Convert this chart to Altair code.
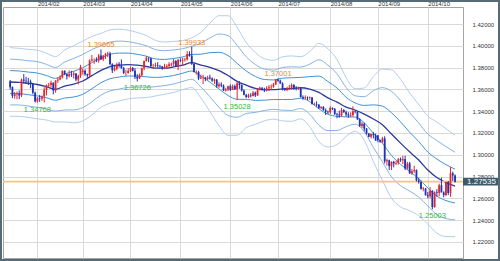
import altair as alt
import pandas as pd

# ---- daily candles (trading-day index 0 = 2014-01-16) ----
opens = [1.3675,1.3620,1.3540,1.3555,1.3560,1.3545,1.3690,1.3680,1.3675,1.3670,1.3655,1.3570,
 1.3490,1.3520,1.3515,1.3535,1.3595,1.3635,1.3640,1.3660,1.3590,1.3680,1.3690,1.3710,1.3770,1.3740,1.3720,1.3740,1.3735,1.3745,1.3690,1.3725,
 1.3760,1.3770,1.3740,1.3730,1.3865,1.3875,1.3875,1.3865,1.3910,1.3875,1.3910,1.3925,1.3930,1.3830,1.3775,1.3790,1.3830,1.3820,1.3795,1.3750,1.3750,
 1.3770,1.3795,1.3770,1.3715,1.3700,1.3730,1.3795,1.3860,1.3890,1.3885,1.3815,1.3815,1.3820,1.3815,1.3810,1.3795,1.3805,1.3815,1.3830,1.3835,1.3860,1.3810,
 1.3870,1.3865,1.3870,1.3875,1.3925,1.3910,1.3835,1.3760,1.3760,1.3700,1.3710,1.3710,1.3695,1.3710,1.3700,1.3680,1.3690,1.3630,1.3645,1.3635,1.3590,1.3600,
 1.3630,1.3595,1.3630,1.3600,1.3655,1.3640,1.3590,1.3550,1.3530,1.3545,1.3540,1.3570,1.3545,1.3600,1.3615,1.3605,1.3600,1.3610,1.3620,1.3625,1.3645,
 1.3690,1.3680,1.3655,1.3605,1.3595,1.3610,1.3615,1.3640,1.3615,1.3605,1.3610,1.3530,1.3520,1.3525,1.3520,1.3525,1.3465,1.3465,1.3460,1.3430,1.3440,1.3410,1.3395,
 1.3390,1.3430,1.3420,1.3375,1.3370,1.3360,1.3410,1.3390,1.3370,1.3360,1.3365,1.3400,1.3395,1.3325,1.3265,1.3285,1.3240,1.3195,1.3165,1.3190,1.3180,
 1.3180,1.3135,1.3120,1.3150,1.2940,1.2950,1.2895,1.2935,1.2920,1.2925,1.2960,1.2950,1.2960,1.2875,1.2920,1.2830,1.2850,1.2860,1.2765,1.2750,1.2685,1.2690,
 1.2630,1.2620,1.2670,1.2520,1.2655,1.2650,1.2720,1.2655,1.2630,1.2750,1.2650,1.2830,1.2810]
highs = [1.3686,1.3627,1.3575,1.3580,1.3590,1.3700,1.3740,1.3715,1.3705,1.3690,1.3660,1.3580,
 1.3530,1.3550,1.3545,1.3620,1.3645,1.3660,1.3680,1.3665,1.3685,1.3710,1.3730,1.3775,1.3775,1.3745,1.3775,1.3770,1.3765,1.3750,1.3735,1.3825,
 1.3790,1.3785,1.3745,1.3875,1.3915,1.3885,1.3895,1.3925,1.39665,1.3915,1.3935,1.3945,1.3945,1.3840,1.3815,1.3845,1.3850,1.3875,1.3805,1.3780,1.3795,
 1.3810,1.3805,1.3795,1.3740,1.3745,1.3800,1.3865,1.3905,1.3895,1.3890,1.3835,1.3845,1.3850,1.3825,1.3815,1.3835,1.3830,1.3850,1.3845,1.3880,1.3870,1.3880,
 1.3885,1.3890,1.3890,1.3950,1.3950,1.39933,1.3840,1.3775,1.3770,1.3735,1.3735,1.3715,1.3725,1.3735,1.3710,1.3700,1.3695,1.3665,1.3665,1.3645,1.3615,1.3635,
 1.3645,1.3645,1.3645,1.3670,1.3675,1.3645,1.3600,1.3560,1.3560,1.3565,1.3585,1.3580,1.3610,1.3625,1.3620,1.3615,1.3630,1.3640,1.3645,1.3660,1.3695,
 1.37001,1.3690,1.3665,1.3615,1.3625,1.3640,1.3655,1.3650,1.3630,1.3625,1.3615,1.3545,1.3545,1.3535,1.3535,1.3530,1.3480,1.3490,1.3465,1.3445,1.3445,1.3425,1.3405,
 1.3445,1.3435,1.3430,1.3385,1.3405,1.3430,1.3420,1.3405,1.3390,1.3390,1.3445,1.3410,1.3400,1.3335,1.3300,1.3295,1.3245,1.3200,1.3195,1.3210,1.3195,
 1.3145,1.3140,1.3165,1.3170,1.2965,1.2955,1.2940,1.2945,1.2945,1.2970,1.2975,1.2990,1.2990,1.2935,1.2935,1.2870,1.2900,1.2865,1.2790,1.2765,1.2705,1.2695,
 1.2660,1.2705,1.2675,1.2665,1.2685,1.2735,1.2790,1.2665,1.2755,1.2760,1.2887,1.2845,1.2820]
lows = [1.3597,1.3520,1.3515,1.3510,1.3510,1.3530,1.3655,1.3655,1.3640,1.3610,1.3555,1.3480,
 1.34768,1.3485,1.3495,1.3480,1.3545,1.3615,1.3620,1.3555,1.3570,1.3660,1.3685,1.3700,1.3730,1.3690,1.3710,1.3715,1.3700,1.3675,1.3645,1.3705,
 1.3735,1.3725,1.3705,1.3710,1.3855,1.3835,1.3850,1.3845,1.3870,1.3860,1.3880,1.3895,1.3825,1.3750,1.3765,1.3775,1.3800,1.3790,1.3740,1.3725,1.3745,
 1.3760,1.3765,1.3695,1.36726,1.3695,1.3720,1.3775,1.3855,1.3850,1.3800,1.3790,1.3805,1.3800,1.3800,1.3780,1.3785,1.3790,1.3800,1.3810,1.3815,1.3805,1.3775,
 1.3850,1.3815,1.3855,1.3865,1.3900,1.3825,1.3755,1.3735,1.3685,1.3695,1.3650,1.3675,1.3685,1.3690,1.3670,1.3650,1.3615,1.3615,1.3620,1.3585,1.3580,1.3585,
 1.3585,1.3595,1.3595,1.35028,1.3605,1.3580,1.3545,1.3520,1.3520,1.3525,1.3535,1.3530,1.3540,1.3590,1.3590,1.3575,1.3580,1.3585,1.3600,1.3615,1.3640,
 1.3670,1.3650,1.3590,1.3585,1.3585,1.3595,1.3600,1.3595,1.3590,1.3595,1.3525,1.3505,1.3510,1.3500,1.3505,1.3460,1.3450,1.3440,1.3420,1.3420,1.3405,1.3365,1.3375,
 1.3375,1.3410,1.3365,1.3335,1.3340,1.3350,1.3385,1.3350,1.3340,1.3345,1.3350,1.3380,1.3320,1.3255,1.3245,1.3215,1.3185,1.3160,1.3150,1.3150,1.3130,
 1.3115,1.3110,1.3110,1.2920,1.2900,1.2860,1.2860,1.2885,1.2905,1.2910,1.2935,1.2915,1.2860,1.2865,1.2825,1.2815,1.2835,1.2755,1.2735,1.2680,1.2665,1.2625,
 1.2600,1.2600,1.25003,1.2515,1.2615,1.2620,1.2655,1.2610,1.2620,1.2630,1.2615,1.2760,1.2745]
closes = [1.3620,1.3540,1.3555,1.3560,1.3545,1.3690,1.3680,1.3675,1.3670,1.3655,1.3570,1.3490,
 1.3520,1.3515,1.3535,1.3595,1.3635,1.3640,1.3660,1.3590,1.3680,1.3690,1.3710,1.3770,1.3740,1.3720,1.3740,1.3735,1.3745,1.3690,1.3725,1.3805,
 1.3770,1.3740,1.3730,1.3865,1.3875,1.3875,1.3865,1.3910,1.3875,1.3910,1.3925,1.3930,1.3830,1.3775,1.3790,1.3830,1.3820,1.3795,1.3750,1.3750,1.3770,
 1.3795,1.3770,1.3715,1.3700,1.3730,1.3795,1.3860,1.3890,1.3885,1.3815,1.3815,1.3820,1.3815,1.3810,1.3795,1.3805,1.3815,1.3830,1.3835,1.3860,1.3810,1.3870,
 1.3865,1.3870,1.3875,1.3925,1.3910,1.3835,1.3760,1.3760,1.3700,1.3710,1.3710,1.3695,1.3710,1.3700,1.3680,1.3690,1.3630,1.3645,1.3635,1.3590,1.3600,1.3630,
 1.3595,1.3630,1.3600,1.3655,1.3640,1.3590,1.3550,1.3530,1.3545,1.3540,1.3570,1.3545,1.3600,1.3615,1.3605,1.3600,1.3610,1.3620,1.3625,1.3645,1.3690,
 1.3680,1.3655,1.3605,1.3595,1.3610,1.3615,1.3640,1.3615,1.3605,1.3610,1.3530,1.3520,1.3525,1.3520,1.3525,1.3465,1.3465,1.3460,1.3430,1.3440,1.3410,1.3395,1.3390,
 1.3430,1.3420,1.3375,1.3370,1.3360,1.3410,1.3390,1.3370,1.3360,1.3365,1.3400,1.3395,1.3325,1.3265,1.3285,1.3240,1.3195,1.3165,1.3190,1.3180,1.3130,
 1.3135,1.3120,1.3150,1.2940,1.2950,1.2895,1.2935,1.2920,1.2925,1.2960,1.2950,1.2960,1.2875,1.2920,1.2830,1.2850,1.2860,1.2765,1.2750,1.2685,1.2690,1.2630,
 1.2620,1.2670,1.2520,1.2655,1.2650,1.2720,1.2655,1.2630,1.2750,1.2650,1.2830,1.2810,1.27535]

# ---- month labels on the top axis (index of first trading day) ----
month_idx = [12, 32, 53, 75, 97, 118, 141, 162, 184]
month_lbl = ["2014/02", "2014/03", "2014/04", "2014/05", "2014/06",
             "2014/07", "2014/08", "2014/09", "2014/10"]
price_ticks = [1.22, 1.24, 1.26, 1.28, 1.30, 1.32, 1.34, 1.36, 1.38, 1.40, 1.42]

# ---- Bollinger bands (middle line and band step) ----
band_idx = [0,4,8,12,16,20,24,28,32,36,40,44,48,52,56,60,64,68,72,76,80,84,88,92,96,100,
            104,108,112,116,120,124,128,132,136,140,144,148,152,156,160,164,168,172,176,180,184,188,192,196]
band_mid = [1.3668,1.3665,1.3655,1.3645,1.3625,1.3601,1.3631,1.3648,1.3677,1.3726,1.3774,1.3810,1.3823,
            1.3828,1.3822,1.3810,1.3795,1.3795,1.3806,1.3823,1.3845,1.3823,1.3802,1.3772,1.3727,1.3674,
            1.3639,1.3609,1.3596,1.3597,1.3605,1.3607,1.3615,1.3602,1.3572,1.3522,1.3483,1.3438,1.3411,
            1.3373,1.3328,1.3276,1.3190,1.3107,1.3027,1.2952,1.2860,1.2791,1.2745,1.2713]
band_sd = [0.0105,0.0104,0.0104,0.0105,0.0102,0.0100,0.0110,0.0118,0.0122,0.0120,0.0113,0.0112,0.0110,
           0.0105,0.0100,0.0095,0.0085,0.0080,0.0078,0.0075,0.0076,0.0100,0.0135,0.0168,0.0183,0.0165,
           0.0130,0.0110,0.0095,0.0090,0.0098,0.0100,0.0095,0.0115,0.0150,0.0150,0.0130,0.0090,0.0065,
           0.0080,0.0130,0.0170,0.0196,0.0195,0.0180,0.0170,0.0165,0.0170,0.0165,0.0155]

hi_idx = [40, 80, 118]
hi_val = [1.39665, 1.39933, 1.37001]
lo_idx = [12, 56, 100, 186]
lo_val = [1.34768, 1.36726, 1.35028, 1.25003]
last_price = 1.27535

FONT = "Liberation Sans"
UP, DOWN = "#e3262b", "#1e33b8"

candles = pd.DataFrame({"i": list(range(len(closes))), "o": opens, "h": highs, "l": lows, "c": closes})
candles["dir"] = ["up" if c >= o else "down" for o, c in zip(opens, closes)]

xs = alt.Scale(domain=[-0.95, 197.3], nice=False, zero=False)
ys = alt.Scale(domain=[1.2053, 1.4356], nice=False, zero=False)
label_expr = "[" + ",".join("'%s'" % m for m in month_lbl) + "][indexof([" + \
    ",".join(str(v) for v in month_idx) + "], datum.value)]"

x_axis = alt.Axis(orient="top", values=month_idx, labelExpr=label_expr, grid=True,
                  gridColor="#d9d9d9", ticks=False, domain=False, labelAlign="left",
                  labelBaseline="bottom", labelPadding=1, labelFontSize=6, labelColor="#333333",
                  labelFont=FONT, title=None)
y_axis = alt.Axis(orient="right", values=price_ticks, format=".5f", grid=True,
                  gridColor="#d9d9d9", ticks=False, domain=False, labelAlign="left",
                  labelPadding=9, labelFontSize=6, labelColor="#333333", labelFont=FONT, title=None)


def X(field):
    return alt.X(field, scale=xs, axis=x_axis)


def Y(field):
    return alt.Y(field, scale=ys, axis=y_axis)


band_df = pd.DataFrame({"i": band_idx, "mid": band_mid, "sd": band_sd})
band_base = alt.Chart(band_df).transform_calculate(
    u3="datum.mid + 3 * datum.sd", u2="datum.mid + 2 * datum.sd", u1="datum.mid + datum.sd",
    l1="datum.mid - datum.sd", l2="datum.mid - 2 * datum.sd", l3="datum.mid - 3 * datum.sd")
band_style = {"u3": "#b3cdee", "u2": "#84b3e4", "u1": "#3e92d5",
              "l1": "#3e92d5", "l2": "#84b3e4", "l3": "#b3cdee"}
band_layers = [band_base.mark_line(interpolate="monotone", strokeWidth=1, color=col, clip=True)
               .encode(x=X("i:Q"), y=Y(name + ":Q")) for name, col in band_style.items()]
mid_line = band_base.mark_line(interpolate="monotone", strokeWidth=1.3, color="#2c3b9c",
                               clip=True).encode(x=X("i:Q"), y=Y("mid:Q"))

price_df = pd.DataFrame({"p": [last_price], "t": ["%.5f" % last_price]})
price_rule = alt.Chart(price_df).mark_rule(color="#f5c879", strokeWidth=1.6).encode(y=Y("p:Q"))

color = alt.Color("dir:N", scale=alt.Scale(domain=["up", "down"], range=[UP, DOWN]), legend=None)
wicks = alt.Chart(candles).mark_rule(strokeWidth=1).encode(
    x=X("i:Q"), y=Y("l:Q"), y2="h:Q", color=color)
bodies = alt.Chart(candles).mark_bar(width=1.8).encode(
    x=X("i:Q"), y=Y("o:Q"), y2="c:Q", color=color)

hi_df = pd.DataFrame({"i": hi_idx, "v": hi_val, "t": ["%.5f" % v for v in hi_val]})
lo_df = pd.DataFrame({"i": lo_idx, "v": lo_val, "t": ["%.5f" % v for v in lo_val]})
hi_text = alt.Chart(hi_df).mark_text(color="#e58a3a", fontSize=7.5, font=FONT,
                                     baseline="bottom").encode(x=X("i:Q"), y=Y("v:Q"), text="t:N")
lo_text = alt.Chart(lo_df).mark_text(color="#3db341", fontSize=7.5, font=FONT, baseline="top",
                                     dy=3).encode(x=X("i:Q"), y=Y("v:Q"), text="t:N")

box = alt.Chart(price_df).transform_calculate(
    a="datum.p - 0.0035", b="datum.p + 0.0035").mark_rect(color="#3c5a6b", clip=False).encode(
    x=alt.value(460), x2=alt.value(497), y=Y("a:Q"), y2="b:Q")
box_text = alt.Chart(price_df).mark_text(color="white", fontSize=8, font=FONT, clip=False).encode(
    x=alt.value(478.5), y=Y("p:Q"), text="t:N")

# thin dark frame around the whole picture
frame = alt.Chart(price_df).mark_rect(fill=None, stroke="#566b78", strokeWidth=2,
                                      clip=False).encode(
    x=alt.value(-2), x2=alt.value(496), y=alt.value(-6), y2=alt.value(253))

chart = alt.layer(*band_layers, mid_line, price_rule, wicks, bodies, hi_text, lo_text,
                  box, box_text, frame).properties(
    width=460, height=251, autosize="none",
    padding={"left": 3, "top": 7, "right": 37, "bottom": 3},
    background="white",
).configure_view(stroke="#a3a3a3", strokeWidth=1)

chart.save("out.html", embed_options={"renderer": "svg", "actions": False})
